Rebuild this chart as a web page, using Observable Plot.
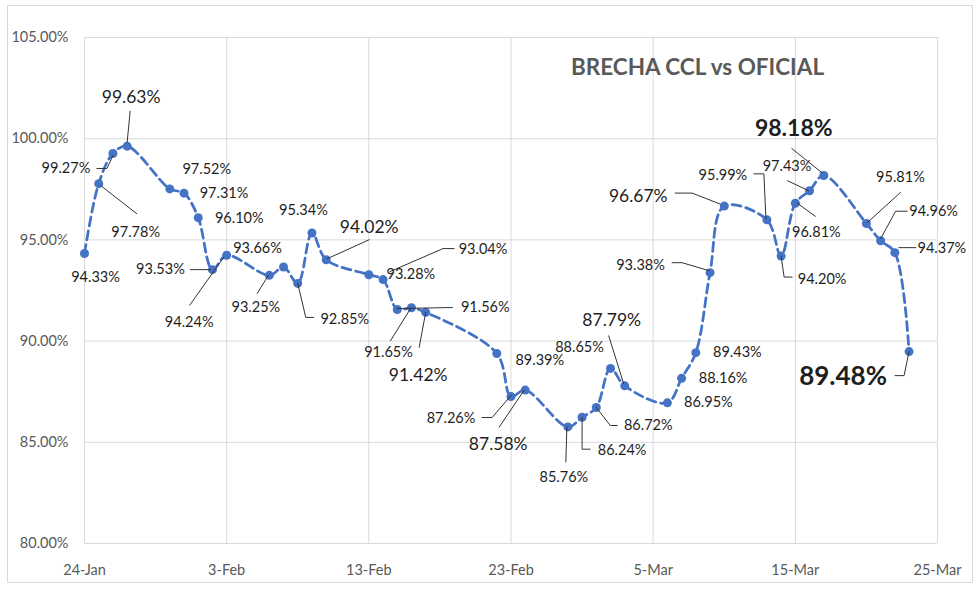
<!DOCTYPE html>
<html><head><meta charset="utf-8">
<script src="https://cdn.jsdelivr.net/npm/d3@7"></script>
<script src="https://cdn.jsdelivr.net/npm/@observablehq/plot@0.6"></script>
<style>
html,body{margin:0;padding:0;background:#fff;}
#wrap{position:relative;width:980px;height:592px;overflow:hidden;background:#fff;}
#wrap svg{display:block;}
#border{position:absolute;left:7px;top:5px;width:966px;height:578px;border:1px solid #d9d9d9;box-sizing:border-box;pointer-events:none;}
</style></head><body><div id="wrap"></div>
<script>
// ---- data ----
const dates = ["2023-01-24","2023-01-25","2023-01-26","2023-01-27","2023-01-30","2023-01-31",
  "2023-02-01","2023-02-02","2023-02-03","2023-02-06","2023-02-07","2023-02-08","2023-02-09","2023-02-10",
  "2023-02-13","2023-02-14","2023-02-15","2023-02-16","2023-02-17","2023-02-22","2023-02-23","2023-02-24",
  "2023-02-27","2023-02-28","2023-03-01","2023-03-02","2023-03-03","2023-03-06","2023-03-07","2023-03-08",
  "2023-03-09","2023-03-10","2023-03-13","2023-03-14","2023-03-15","2023-03-16","2023-03-17","2023-03-20",
  "2023-03-21","2023-03-22","2023-03-23"];
const values = [94.33,97.78,99.27,99.63,97.52,97.31,96.10,93.53,94.24,93.25,93.66,92.85,95.34,94.02,
  93.28,93.04,91.56,91.65,91.42,89.39,87.26,87.58,85.76,86.24,86.72,88.65,87.79,86.95,88.16,89.43,
  93.38,96.67,95.99,94.20,96.81,97.43,98.18,95.81,94.96,94.37,89.48];
const xTickDates = ["2023-01-24","2023-02-03","2023-02-13","2023-02-23","2023-03-05","2023-03-15","2023-03-25"];
const xTickLabels = ["24-Jan","3-Feb","13-Feb","23-Feb","5-Mar","15-Mar","25-Mar"];
const yTicks = [80,85,90,95,100,105];
const title = "BRECHA CCL vs OFICIAL";

// ---- label layout (pixel offsets from each point; size class; leader polyline offsets) ----
const labelLayout = [
  [11,24,"s",null],
  [37,49,"s",[[2,2],[38,30]]],
  [-47,15,"s",[[0,2],[-6,15],[-16,15]]],
  [4,-49,"m",[[0,-4],[3,-35]]],
  [37,-20,"s",null],
  [40,0,"s",null],
  [41,1,"s",null],
  [-52,0,"s",[[-2,0],[-22,0]]],
  [-37.5,67,"s",[[-3,2],[-37,50]]],
  [-13.5,32.5,"s",[[-1,0],[-12,18]]],
  [-26,-19,"s",null],
  [47,36,"s",[[0,0],[8,34],[16,34]]],
  [-8.5,-23,"s",null],
  [43,-32.5,"m",[[1,-1],[43,-20]]],
  [42,0,"s",null],
  [100,-30,"s",[[7,-8],[60,-31],[71,-31]]],
  [88,-2,"s",[[0,-1],[55,-2]]],
  [-23,44.5,"s",[[-1,1],[-21,33]]],
  [-7.5,63,"m",[[0,0],[-6.5,35]]],
  [43,7,"s",null],
  [-60,22,"s",[[0,-1],[-19,21],[-29,21]]],
  [-27,54,"m",[[-1,0],[-26,37]]],
  [-4,50,"s",[[-1,0],[-2,35]]],
  [40,33,"s",[[0,0],[0,32],[8,32]]],
  [52,18,"s",[[0,0],[14,18],[21,18]]],
  [-31,-21,"s",null],
  [-13,-65,"m",[[-1,-2],[-16,-50]]],
  [41,0,"s",null],
  [41.5,0.5,"s",null],
  [41.5,0,"s",null],
  [-69.5,-7,"s",[[-1,-2],[-28,-10],[-38,-10]]],
  [-86,-10,"m",[[-4,-2],[-32,-13],[-49,-13]]],
  [-44,-44.5,"s",[[-1,-1],[-3,-46],[-13,-46]]],
  [41,23.7,"s",[[0,0],[3,21],[11,21]]],
  [21,29.5,"s",[[2,0],[20,13]]],
  [-22.5,-24,"s",[[-1,0],[-22,-10]]],
  [-30,-47,"b",[[-2,-3],[-32,-27]]],
  [34,-46,"s",[[1,-1],[34,-31]]],
  [53,-29,"s",[[0,-2],[15,-29.5],[26.5,-29.5]]],
  [47,-4,"s",[[4,-5],[21,-5]]],
  [-66,25.5,"x",[[0,0],[-5,24],[-14,24]]]
];
const sizeStyles = {s:{fontSize:14.5,fontWeight:"normal"}, m:{fontSize:17.5,fontWeight:"normal"},
  b:{fontSize:23,fontWeight:"bold"}, x:{fontSize:26,fontWeight:"bold"}};

// ---- build ----
const W = 980, H = 592, ML = 84, MR = 43, MT = 37, MB = 49;
const toDate = s => new Date(s + "T00:00:00Z");
const rows = dates.map((d, i) => ({date: toDate(d), value: values[i]}));
const xDomain = [toDate(xTickDates[0]), toDate(xTickDates[xTickDates.length - 1])];
const xTickMap = new Map(xTickDates.map((d, i) => [toDate(d).getTime(), xTickLabels[i]]));
const fmt = v => v.toFixed(2) + "%";

const xs = Plot.scale({x: {type: "utc", domain: xDomain, range: [ML, W - MR]}});
const ys = Plot.scale({y: {type: "linear", domain: [80, 105], range: [H - MB, MT]}});

const leaders = [];
rows.forEach((r, i) => {
  const L = labelLayout[i][3];
  if (!L) return;
  const px = xs.apply(r.date), py = ys.apply(r.value);
  L.forEach(([ox, oy]) => leaders.push({id: i, date: xs.invert(px + ox), value: ys.invert(py + oy)}));
});

const labelMarks = rows.map((r, i) => {
  const [dx, dy, sz] = labelLayout[i];
  const st = sizeStyles[sz];
  return Plot.text([r], {x: "date", y: "value", text: d => fmt(d.value), dx, dy,
    fontSize: st.fontSize, fontWeight: st.fontWeight, fill: "#1e1e1e",
    textAnchor: "middle", lineAnchor: "middle"});
});

const chart = Plot.plot({
  width: W, height: H,
  marginLeft: ML, marginRight: MR, marginTop: MT, marginBottom: MB,
  style: {fontFamily: "Lato", fontSize: "14.5px", color: "#595959", background: "#fff", overflow: "visible"},
  x: {type: "utc", domain: xDomain, ticks: xTickDates.map(toDate),
      tickFormat: d => xTickMap.get(d.getTime()), tickSize: 0, tickPadding: 21, label: null},
  y: {domain: [80, 105], ticks: yTicks, tickFormat: v => v.toFixed(2) + "%",
      tickSize: 0, tickPadding: 16, label: null},
  marks: [
    Plot.ruleY(yTicks, {stroke: "#d9d9d9", strokeWidth: 1}),
    Plot.ruleX(xTickDates.map(toDate), {stroke: "#d9d9d9", strokeWidth: 1}),
    Plot.line(rows, {x: "date", y: "value", stroke: "#4472C4", strokeWidth: 2.75,
      strokeDasharray: "9,5", curve: "catmull-rom"}),
    Plot.dot(rows, {x: "date", y: "value", r: 4.5, fill: "#4472C4", stroke: "none"}),
    Plot.line(leaders, {x: "date", y: "value", z: "id", stroke: "#333", strokeWidth: 1, curve: "linear"}),
    ...labelMarks,
    Plot.text([title], {frameAnchor: "top", text: d => d, dx: 186.5, dy: 30, fontSize: 22.5,
      fontWeight: "bold", fill: "#595959", lineAnchor: "middle"})
  ]
});

const wrap = document.getElementById("wrap");
wrap.appendChild(chart);
const b = document.createElement("div"); b.id = "border"; wrap.appendChild(b);
</script></body></html>
